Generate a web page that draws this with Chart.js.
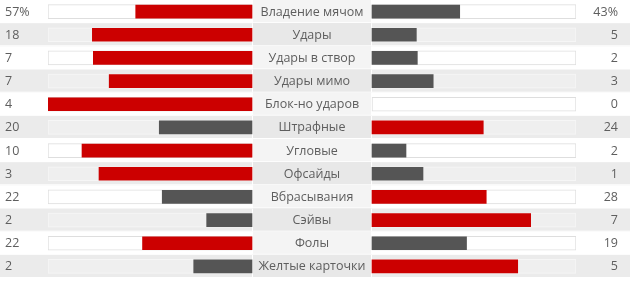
<!DOCTYPE html>
<html>
<head>
<meta charset="utf-8">
<script src="https://cdn.jsdelivr.net/npm/chart.js@4/dist/chart.umd.min.js"></script>
<style>
  html, body { margin: 0; padding: 0; background: #fff; }
</style>
</head>
<body>
<canvas id="statsChart" width="630" height="285"></canvas>
<script>
// stats of the match (left team / right team)
const categorias = ['Владение мячом', 'Удары', 'Удары в створ', 'Удары мимо', 'Блок-но ударов', 'Штрафные',
  'Угловые', 'Офсайды', 'Вбрасывания', 'Сэйвы', 'Фолы', 'Желтые карточки'];
const local = [57, 18, 7, 7, 4, 20, 10, 3, 22, 2, 22, 2];
const visitante = [43, 5, 2, 3, 0, 24, 2, 1, 28, 7, 19, 5];
const sufijos = ['%', '', '', '', '', '', '', '', '', '', '', ''];

const ROJO = '#cc0000';
const GRIS = '#555555';
// half width of the label column, in axis units (track = 100)
const GAP = 60 / 204 * 100;

// share of each side in the row total
const partLocal = local.map((v, i) => (v + visitante[i]) ? v / (v + visitante[i]) * 100 : 0);
const partVisit = visitante.map((v, i) => (v + local[i]) ? v / (v + local[i]) * 100 : 0);

const colLocal = local.map((v, i) => v > visitante[i] ? ROJO : GRIS);
const colVisit = visitante.map((v, i) => v > local[i] ? ROJO : GRIS);

const trackBg = categorias.map((c, i) => i % 2 ? '#efefef' : '#ffffff');
const trackBorder = categorias.map((c, i) => i % 2 ? '#f6f6f6' : '#dedede');

// background stripes + middle column
const fondo = {
  id: 'fondo',
  beforeDraw(chart) {
    const { ctx, scales: { x, y } } = chart;
    const h = (chart.chartArea.bottom - chart.chartArea.top) / categorias.length;
    const x1 = Math.round(x.getPixelForValue(-GAP));
    const x2 = Math.round(x.getPixelForValue(GAP));
    ctx.save();
    categorias.forEach((c, i) => {
      const top = y.getPixelForValue(i) - h / 2;
      if (i % 2) {
        ctx.fillStyle = '#ebebeb';
        ctx.fillRect(0, top, chart.width, h);
      }
      ctx.fillStyle = i % 2 ? '#e8e8e8' : '#f4f4f4';
      ctx.fillRect(x1, top, x2 - x1, h);
      ctx.fillStyle = '#ffffff';
      ctx.fillRect(x1, top, 1, h);
      ctx.fillRect(x2 - 1, top, 1, h);
      ctx.fillRect(0, top + h - 1, chart.width, 1);
    });
    ctx.restore();
  },
  afterDatasetsDraw(chart) {
    const { ctx, scales: { x, y } } = chart;
    const mid = (x.getPixelForValue(-GAP) + x.getPixelForValue(GAP)) / 2;
    ctx.save();
    ctx.font = '12.5px "Open Sans", sans-serif';
    ctx.fillStyle = '#5e5e5e';
    ctx.textBaseline = 'middle';
    categorias.forEach((c, i) => {
      const yc = y.getPixelForValue(i) + 0.5;
      ctx.textAlign = 'left';
      ctx.fillText(local[i] + sufijos[i], 5, yc);
      ctx.textAlign = 'center';
      ctx.fillText(c, mid, yc);
      ctx.textAlign = 'right';
      ctx.fillText(visitante[i] + sufijos[i], 618, yc);
    });
    ctx.restore();
  }
};

const ctx = document.getElementById('statsChart').getContext('2d');
new Chart(ctx, {
  type: 'bar',
  data: {
    labels: categorias,
    datasets: [
      {
        label: 'local',
        data: partLocal.map(p => p ? [-GAP - p, -GAP] : null),
        backgroundColor: colLocal,
        barThickness: 13,
        grouped: false,
        order: 0
      },
      {
        label: 'visitante',
        data: partVisit.map(p => p ? [GAP, GAP + p] : null),
        backgroundColor: colVisit,
        barThickness: 13,
        grouped: false,
        order: 0
      },
      {
        label: 'pista local',
        data: categorias.map(() => [-GAP - 100, -GAP]),
        backgroundColor: trackBg,
        borderColor: trackBorder,
        borderWidth: 1,
        borderSkipped: false,
        barThickness: 14,
        grouped: false,
        order: 1
      },
      {
        label: 'pista visitante',
        data: categorias.map(() => [GAP, GAP + 100]),
        backgroundColor: trackBg,
        borderColor: trackBorder,
        borderWidth: 1,
        borderSkipped: false,
        barThickness: 14,
        grouped: false,
        order: 1
      }
    ]
  },
  options: {
    indexAxis: 'y',
    responsive: false,
    animation: false,
    devicePixelRatio: 1,
    layout: { padding: { left: 48, right: 54, top: 0, bottom: 7 } },
    plugins: { legend: { display: false }, tooltip: { enabled: false } },
    scales: {
      x: { type: 'linear', min: -GAP - 100, max: GAP + 100, display: false },
      y: { display: false }
    }
  },
  plugins: [fondo]
});
</script>
</body>
</html>
